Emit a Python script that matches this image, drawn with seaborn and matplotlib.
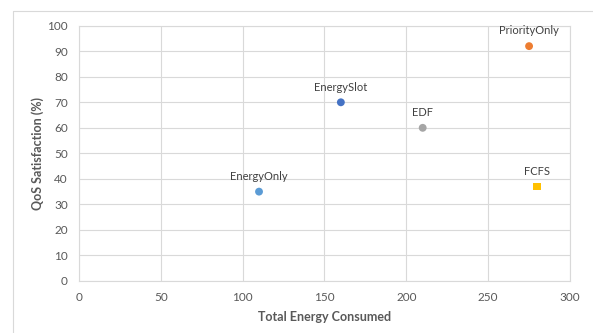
import matplotlib
matplotlib.use("Agg")
import matplotlib.pyplot as plt
import seaborn as sns
import pandas as pd

schedulers = ["EnergyOnly", "EnergySlot", "EDF", "PriorityOnly", "FCFS"]
energy = [110, 160, 210, 275, 280]
qos = [35, 70, 60, 92, 37]
colors = ["#5B9BD5", "#4472C4", "#A5A5A5", "#ED7D31", "#FFC000"]
markers = ["o", "o", "o", "o", "s"]

df = pd.DataFrame({"scheduler": schedulers, "energy": energy, "qos": qos})

sns.set_theme(style="white")
plt.rcParams["font.family"] = ["Lato", "DejaVu Sans"]

fig = plt.figure(figsize=(5.93, 3.33), dpi=100)
ax = fig.add_axes([0.1332, 0.1562, 0.8280, 0.7666])

# chart frame
fig.add_artist(plt.Line2D([0.022, 1.0], [0.966, 0.966], color="#D9D9D9", lw=0.8,
                          transform=fig.transFigure))
fig.add_artist(plt.Line2D([0.022, 0.022], [0.0, 0.966], color="#D9D9D9", lw=0.8,
                          transform=fig.transFigure))

sns.scatterplot(data=df, x="energy", y="qos", hue="scheduler", style="scheduler",
                palette=dict(zip(schedulers, colors)),
                markers=dict(zip(schedulers, markers)),
                s=32, linewidth=0, legend=False, ax=ax, zorder=3)

for name, xv, yv in zip(schedulers, energy, qos):
    ax.annotate(name, (xv, yv), xytext=(0, 7), textcoords="offset points",
                ha="center", va="bottom", fontsize=8, color="#404040")

ax.set_xlim(0, 300)
ax.set_ylim(0, 100)
ax.set_xticks(range(0, 301, 50))
ax.set_yticks(range(0, 101, 10))
ax.grid(True, color="#D9D9D9", lw=0.8)
for sp in ax.spines.values():
    sp.set_color("#D9D9D9")
    sp.set_linewidth(0.8)
ax.tick_params(axis="both", length=0, labelsize=8.5, labelcolor="#595959", pad=8)
ax.set_xlabel("Total Energy Consumed", fontsize=9, fontweight="bold", color="#595959", labelpad=6)
ax.set_ylabel("QoS Satisfaction (%)", fontsize=9, fontweight="bold", color="#595959", labelpad=2)

fig.savefig("out.png", dpi=100, facecolor="white")
